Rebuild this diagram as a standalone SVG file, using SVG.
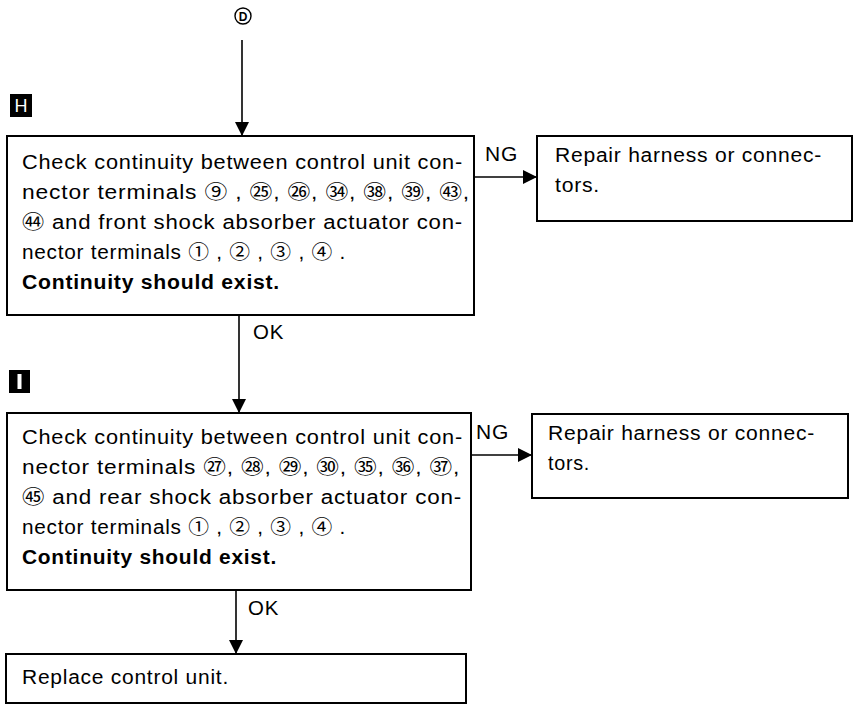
<svg xmlns="http://www.w3.org/2000/svg" width="865" height="709" viewBox="0 0 865 709">
<style>
.box{fill:#fff;stroke:#000;stroke-width:2}
.t{font-family:"Liberation Sans","Noto Sans CJK JP",sans-serif;font-size:19.5px;letter-spacing:0.7px;fill:#000}
.b{font-weight:bold}
.ln{stroke:#000;stroke-width:1.6;fill:none}
.badge{fill:#000}
.bl{font-family:"Liberation Sans",sans-serif;font-size:18px;fill:#fff}
</style>
<defs>
<marker id="ah" markerWidth="14" markerHeight="14" refX="14" refY="7" orient="auto" markerUnits="userSpaceOnUse">
<path d="M0,0 L14,7 L0,14 Z" fill="#000"/>
</marker>
</defs>
<rect width="865" height="709" fill="#fff"/>
<g id="start">
<circle cx="243" cy="16" r="8" fill="none" stroke="#000" stroke-width="1.4"/>
<text x="243" y="20.5" text-anchor="middle" style="font-family:'Liberation Sans',sans-serif;font-size:12px;font-weight:bold">D</text>
</g>
<g id="labelH">
<rect class="badge" x="10" y="94" width="22" height="23"/>
<text class="bl" x="21" y="112" text-anchor="middle">H</text>
</g>
<g id="labelI">
<rect class="badge" x="9" y="370" width="21" height="23"/>
<rect x="17.5" y="374" width="4" height="15" fill="#fff"/>
</g>
<g id="connectors">
<line class="ln" x1="242" y1="40" x2="242" y2="136" marker-end="url(#ah)"/>
<line class="ln" x1="474" y1="177" x2="537" y2="177" marker-end="url(#ah)"/>
<line class="ln" x1="239" y1="315" x2="239" y2="413" marker-end="url(#ah)"/>
<line class="ln" x1="471" y1="455" x2="532" y2="455" marker-end="url(#ah)"/>
<line class="ln" x1="236" y1="590" x2="236" y2="654" marker-end="url(#ah)"/>
<text class="t" x="485" y="161" textLength="33" lengthAdjust="spacingAndGlyphs">NG</text>
<text class="t" x="253" y="339" textLength="31" lengthAdjust="spacingAndGlyphs">OK</text>
<text class="t" x="476" y="439" textLength="33" lengthAdjust="spacingAndGlyphs">NG</text>
<text class="t" x="248" y="615" textLength="31" lengthAdjust="spacingAndGlyphs">OK</text>
</g>
<g id="checkH">
<rect class="box" x="7" y="136" width="467" height="179"/>
<text class="t" x="22" y="169" textLength="441" lengthAdjust="spacingAndGlyphs">Check continuity between control unit con-</text>
<text class="t" x="22" y="199" textLength="448" lengthAdjust="spacingAndGlyphs">nector terminals ⑨ , ㉕, ㉖, ㉞, ㊳, ㊴, ㊸,</text>
<text class="t" x="22" y="229" textLength="441" lengthAdjust="spacingAndGlyphs">㊹ and front shock absorber actuator con-</text>
<text class="t" x="22" y="259" textLength="324" lengthAdjust="spacingAndGlyphs">nector terminals ① , ② , ③ , ④ .</text>
<text class="t b" x="22" y="289" textLength="258" lengthAdjust="spacingAndGlyphs">Continuity should exist.</text>
</g>
<g id="repairH">
<rect class="box" x="537" y="136" width="315" height="85"/>
<text class="t" x="555" y="162" textLength="267" lengthAdjust="spacingAndGlyphs">Repair harness or connec-</text>
<text class="t" x="555" y="192" textLength="45" lengthAdjust="spacingAndGlyphs">tors.</text>
</g>
<g id="checkI">
<rect class="box" x="7" y="413" width="464" height="177"/>
<text class="t" x="22" y="444" textLength="441" lengthAdjust="spacingAndGlyphs">Check continuity between control unit con-</text>
<text class="t" x="22" y="474" textLength="438" lengthAdjust="spacingAndGlyphs">nector terminals ㉗, ㉘, ㉙, ㉚, ㉟, ㊱, ㊲,</text>
<text class="t" x="22" y="504" textLength="440" lengthAdjust="spacingAndGlyphs">㊺ and rear shock absorber actuator con-</text>
<text class="t" x="22" y="534" textLength="324" lengthAdjust="spacingAndGlyphs">nector terminals ① , ② , ③ , ④ .</text>
<text class="t b" x="22" y="564" textLength="255" lengthAdjust="spacingAndGlyphs">Continuity should exist.</text>
</g>
<g id="repairI">
<rect class="box" x="532" y="414" width="316" height="84"/>
<text class="t" x="548" y="440" textLength="267" lengthAdjust="spacingAndGlyphs">Repair harness or connec-</text>
<text class="t" x="548" y="470" textLength="42" lengthAdjust="spacingAndGlyphs">tors.</text>
</g>
<g id="replace">
<rect class="box" x="6" y="654" width="460" height="49"/>
<text class="t" x="22" y="684" textLength="207" lengthAdjust="spacingAndGlyphs">Replace control unit.</text>
</g>
</svg>
